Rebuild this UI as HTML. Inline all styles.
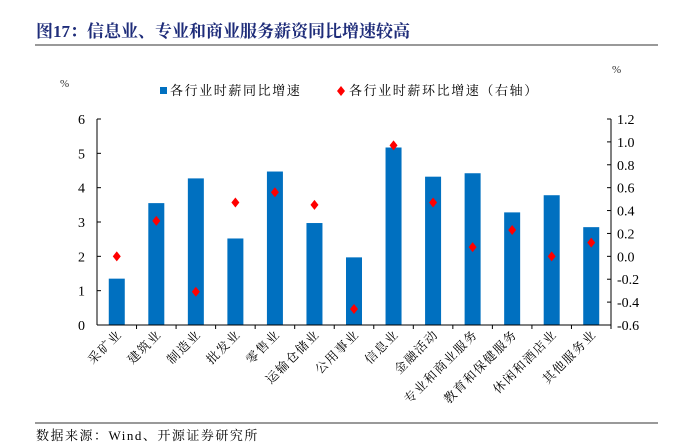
<!DOCTYPE html>
<html><head><meta charset="utf-8"><style>
body{margin:0;background:#fff;width:677px;height:443px;overflow:hidden;font-family:"Liberation Serif","Noto Serif CJK SC",serif}
</style></head><body>
<svg width="677" height="443" xmlns="http://www.w3.org/2000/svg">
<text x="36" y="37" font-size="17" font-weight="bold" fill="#1f2d7a" font-family="Liberation Serif,Noto Serif CJK SC,serif">图17：信息业、专业和商业服务薪资同比增速较高</text>
<line x1="35" y1="45" x2="658" y2="45" stroke="#333" stroke-width="1"/>
<text x="60" y="87" font-size="11" fill="#333">%</text>
<text x="612" y="73" font-size="11" fill="#333">%</text>
<g font-size="13" fill="#000" letter-spacing="1.6">
<rect x="160" y="87" width="7" height="7" fill="#0070c0"/>
<text x="170" y="95">各行业时薪同比增速</text>
<path d="M341 86 L345 91 L341 96 L337 91Z" fill="#ff0000"/>
<text x="349" y="95">各行业时薪环比增速（右轴）</text>
</g>
<g id="plot"></g>
<line x1="35" y1="423" x2="658" y2="423" stroke="#333" stroke-width="1"/>
<text x="36" y="440" font-size="13" fill="#000" letter-spacing="1.5">数据来源：Wind、开源证券研究所</text>
</svg>
<script>
const categories=["采矿业","建筑业","制造业","批发业","零售业","运输仓储业","公用事业","信息业","金融活动","专业和商业服务","教育和保健服务","休闲和酒店业","其他服务业"];
const yoyValues=[1.35,3.55,4.27,2.52,4.47,2.97,1.97,5.17,4.32,4.42,3.28,3.78,2.85];
const momValues=[0.0,0.31,-0.31,0.47,0.56,0.45,-0.46,0.97,0.47,0.08,0.23,0.0,0.12];
const leftTicks=[0,1,2,3,4,5,6];
const rightTicks=[-0.6,-0.4,-0.2,0.0,0.2,0.4,0.6,0.8,1.0,1.2];
const rightTickLabels=["-0.6","-0.4","-0.2","0.0","0.2","0.4","0.6","0.8","1.0","1.2"];

const NS="http://www.w3.org/2000/svg";
const g=document.getElementById('plot');
const X0=97,X1=611,Y0=325,Y1=119;
const band=(X1-X0)/categories.length;
const yL=v=>Y0-(v-0)/(6-0)*(Y0-Y1);
const yR=v=>Y0-(v+0.6)/(1.8)*(Y0-Y1);
const xC=i=>X0+band*(i+0.5);
function mk(tag,attrs){const e=document.createElementNS(NS,tag);for(const k in attrs)e.setAttribute(k,attrs[k]);g.appendChild(e);return e;}
let a=mk('line',{x1:X0,y1:Y1,x2:X0,y2:Y0,stroke:'#000'});


a=mk('line',{x1:X1,y1:Y1,x2:X1,y2:Y0,stroke:'#000'});


leftTicks.forEach(v=>{
  const t=mk('line',{x1:X0,y1:yL(v),x2:X0+4,y2:yL(v),stroke:'#000'});
  
  
  const l=mk('text',{x:X0-12,y:yL(v)+5,'font-size':14,'text-anchor':'end',fill:'#000'});
  l.textContent=v;
  
  
});
rightTicks.forEach((v,i)=>{
  const t=mk('line',{x1:X1-4,y1:yR(v),x2:X1,y2:yR(v),stroke:'#000'});
  
  
  const l=mk('text',{x:X1+6,y:yR(v)+5,'font-size':14,fill:'#000'});
  l.textContent=rightTickLabels[i];
  
  
});
categories.forEach((c,i)=>{
  const b=mk('rect',{x:xC(i)-8,y:yL(yoyValues[i]),width:16,height:Y0-yL(yoyValues[i]),fill:'#0070c0'});
  
  
  const tk=mk('line',{x1:X0+band*(i+1),y1:Y0,x2:X0+band*(i+1),y2:Y0+4,stroke:'#000'});
  
  
  const cx=xC(i)+6,cy=Y0+10;
  const l=mk('text',{x:cx,y:cy,'font-size':12.5,'letter-spacing':1.5,'text-anchor':'end',fill:'#000',transform:`rotate(-45 ${cx} ${cy})`,'font-family':'Liberation Serif,Noto Serif CJK SC,serif'});
  l.textContent=c;
  
  
});
const ax=mk('line',{x1:X0,y1:Y0,x2:X1,y2:Y0,stroke:'#000'});


categories.forEach((c,i)=>{
  const x=xC(i),y=yR(momValues[i]);
  const d=mk('path',{d:`M${x} ${y-5}L${x+4} ${y}L${x} ${y+5}L${x-4} ${y}Z`,fill:'#ff0000'});
  
  
});
</script>
</body></html>
